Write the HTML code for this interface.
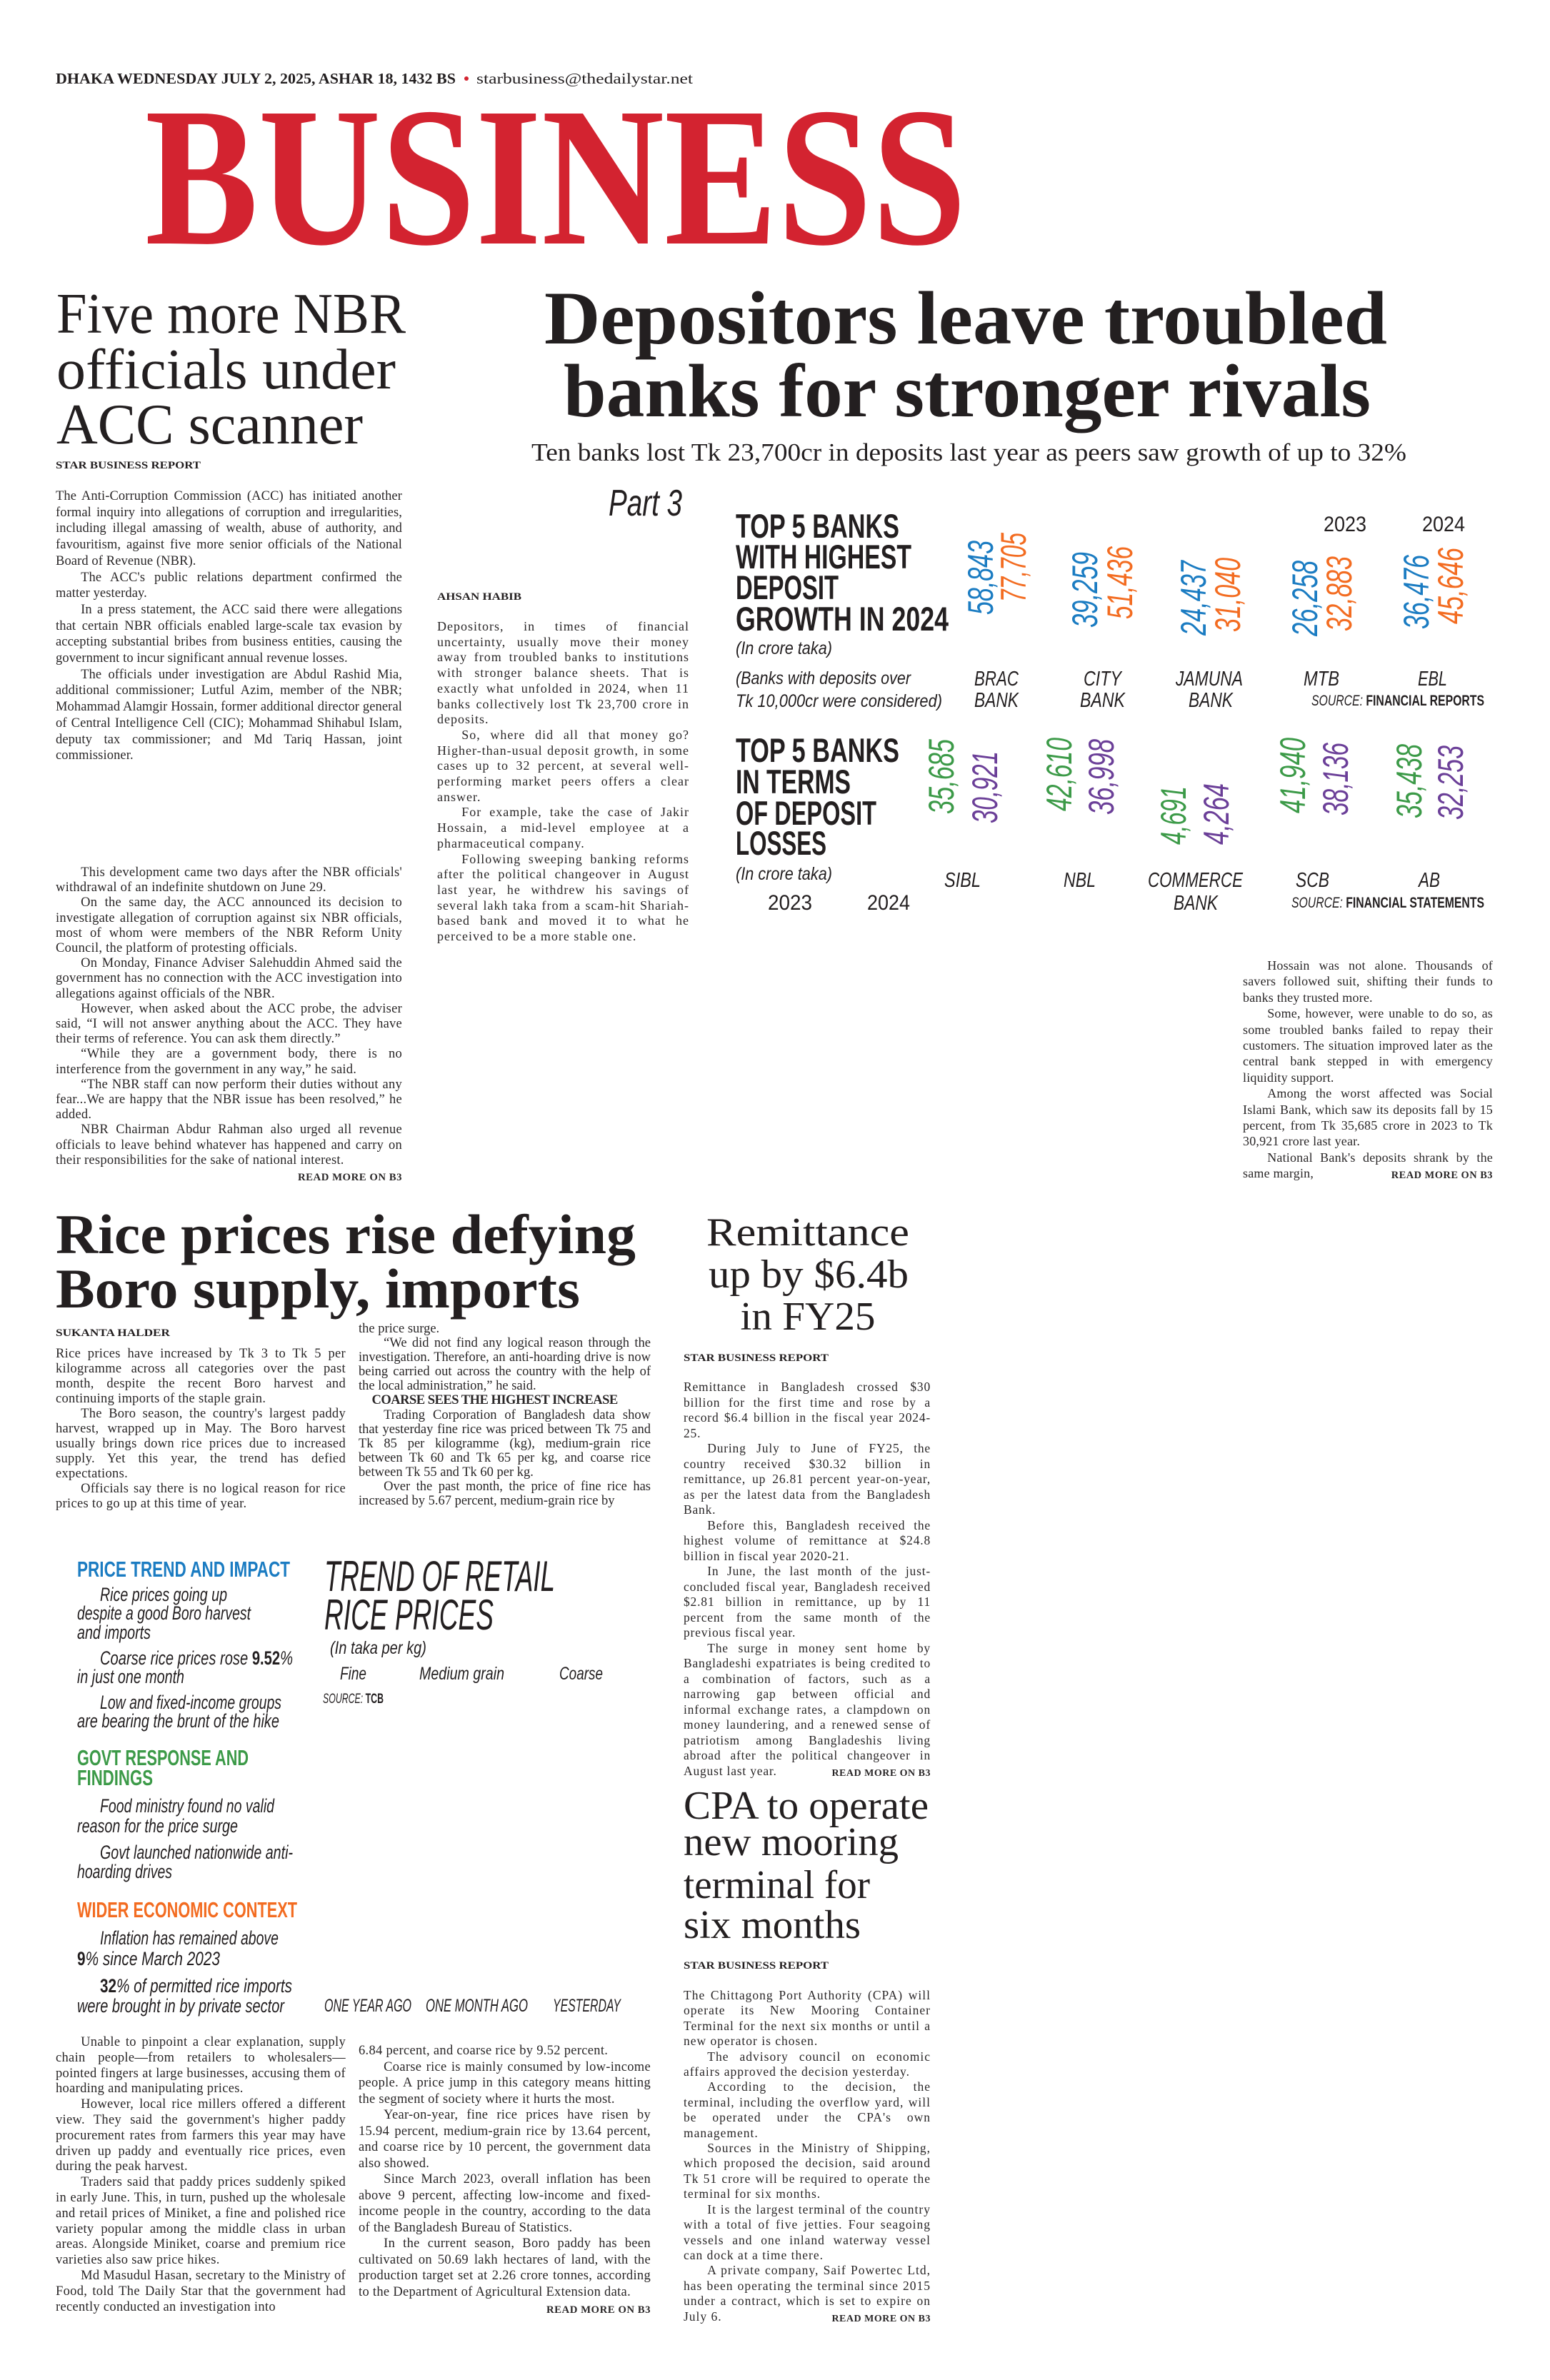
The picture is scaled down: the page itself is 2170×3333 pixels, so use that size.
<!DOCTYPE html>
<html><head><meta charset="utf-8">
<style>
html,body{margin:0;padding:0;background:#fff;}
body{width:2170px;height:3333px;position:relative;overflow:hidden;font-family:"Liberation Serif",serif;color:#231f20;}
.b{position:absolute;font-family:"Liberation Serif",serif;text-align:justify;color:#2a2728;}
.b p{margin:0;text-indent:1.9em;}
.b p.f{text-indent:0;}
.b .rm{float:right;font-weight:bold;font-size:0.8em;letter-spacing:0.5px;margin-top:3px;}
.b .sh{font-weight:bold;text-indent:1em;letter-spacing:-0.5px;}
svg{position:absolute;left:0;top:0;}
</style></head><body>

<div class="b" style="left:78px;top:684px;width:485px;font-size:18.5px;line-height:22.7px;letter-spacing:0.1px;">
<p class="f">The Anti-Corruption Commission (ACC) has initiated another formal inquiry into allegations of corruption and irregularities, including illegal amassing of wealth, abuse of authority, and favouritism, against five more senior officials of the National Board of Revenue (NBR).</p>
<p>The ACC's public relations department confirmed the matter yesterday.</p>
<p>In a press statement, the ACC said there were allegations that certain NBR officials enabled large-scale tax evasion by accepting substantial bribes from business entities, causing the government to incur significant annual revenue losses.</p>
<p>The officials under investigation are Abdul Rashid Mia, additional commissioner; Lutful Azim, member of the NBR; Mohammad Alamgir Hossain, former additional director general of Central Intelligence Cell (CIC); Mohammad Shihabul Islam, deputy tax commissioner; and Md Tariq Hassan, joint commissioner.</p>
</div>
<div class="b" style="left:78px;top:1212px;width:485px;font-size:18.5px;line-height:21.2px;letter-spacing:0.25px;">
<p>This development came two days after the NBR officials' withdrawal of an indefinite shutdown on June 29.</p>
<p>On the same day, the ACC announced its decision to investigate allegation of corruption against six NBR officials, most of whom were members of the NBR Reform Unity Council, the platform of protesting officials.</p>
<p>On Monday, Finance Adviser Salehuddin Ahmed said the government has no connection with the ACC investigation into allegations against officials of the NBR.</p>
<p>However, when asked about the ACC probe, the adviser said, “I will not answer anything about the ACC. They have their terms of reference. You can ask them directly.”</p>
<p>“While they are a government body, there is no interference from the government in any way,” he said.</p>
<p>“The NBR staff can now perform their duties without any fear...We are happy that the NBR issue has been resolved,” he added.</p>
<p>NBR Chairman Abdur Rahman also urged all revenue officials to leave behind whatever has happened and carry on their responsibilities for the sake of national interest. <span class="rm">READ MORE ON B3</span></p>
</div>

<div class="b" style="left:612px;top:867px;width:353px;font-size:18px;line-height:21.7px;letter-spacing:1px;">
<p class="f">Depositors, in times of financial uncertainty, usually move their money away from troubled banks to institutions with stronger balance sheets. That is exactly what unfolded in 2024, when 11 banks collectively lost Tk 23,700 crore in deposits.</p>
<p>So, where did all that money go? Higher-than-usual deposit growth, in some cases up to 32 percent, at several well-performing market peers offers a clear answer.</p>
<p>For example, take the case of Jakir Hossain, a mid-level employee at a pharmaceutical company.</p>
<p>Following sweeping banking reforms after the political changeover in August last year, he withdrew his savings of several lakh taka from a scam-hit Shariah-based bank and moved it to what he perceived to be a more stable one.</p>
</div>

<div class="b" style="left:1740px;top:1341px;width:350px;font-size:18px;line-height:22.4px;letter-spacing:0.2px;">
<p>Hossain was not alone. Thousands of savers followed suit, shifting their funds to banks they trusted more.</p>
<p>Some, however, were unable to do so, as some troubled banks failed to repay their customers. The situation improved later as the central bank stepped in with emergency liquidity support.</p>
<p>Among the worst affected was Social Islami Bank, which saw its deposits fall by 15 percent, from Tk 35,685 crore in 2023 to Tk 30,921 crore last year.</p>
<p>National Bank's deposits shrank by the same margin, <span class="rm">READ MORE ON B3</span></p>
</div>

<div class="b" style="left:78px;top:1886px;width:406px;font-size:18.5px;line-height:21px;letter-spacing:0.3px;">
<p class="f">Rice prices have increased by Tk 3 to Tk 5 per kilogramme across all categories over the past month, despite the recent Boro harvest and continuing imports of the staple grain.</p>
<p>The Boro season, the country's largest paddy harvest, wrapped up in May. The Boro harvest usually brings down rice prices due to increased supply. Yet this year, the trend has defied expectations.</p>
<p>Officials say there is no logical reason for rice prices to go up at this time of year.</p>
</div>
<div class="b" style="left:502px;top:1851px;width:409px;font-size:18.5px;line-height:20.1px;">
<p class="f">the price surge.</p>
<p>“We did not find any logical reason through the investigation. Therefore, an anti-hoarding drive is now being carried out across the country with the help of the local administration,” he said.</p>
<p class="sh">COARSE SEES THE HIGHEST INCREASE</p>
<p>Trading Corporation of Bangladesh data show that yesterday fine rice was priced between Tk 75 and Tk 85 per kilogramme (kg), medium-grain rice between Tk 60 and Tk 65 per kg, and coarse rice between Tk 55 and Tk 60 per kg.</p>
<p>Over the past month, the price of fine rice has increased by 5.67 percent, medium-grain rice by</p>
</div>

<div class="b" style="left:78px;top:2850px;width:406px;font-size:18.5px;line-height:21.8px;letter-spacing:0.3px;">
<p>Unable to pinpoint a clear explanation, supply chain people—from retailers to wholesalers—pointed fingers at large businesses, accusing them of hoarding and manipulating prices.</p>
<p>However, local rice millers offered a different view. They said the government's higher paddy procurement rates from farmers this year may have driven up paddy and eventually rice prices, even during the peak harvest.</p>
<p>Traders said that paddy prices suddenly spiked in early June. This, in turn, pushed up the wholesale and retail prices of Miniket, a fine and polished rice variety popular among the middle class in urban areas. Alongside Miniket, coarse and premium rice varieties also saw price hikes.</p>
<p>Md Masudul Hasan, secretary to the Ministry of Food, told The Daily Star that the government had recently conducted an investigation into</p>
</div>
<div class="b" style="left:502px;top:2861px;width:409px;font-size:18.5px;line-height:22.5px;letter-spacing:0.3px;">
<p class="f">6.84 percent, and coarse rice by 9.52 percent.</p>
<p>Coarse rice is mainly consumed by low-income people. A price jump in this category means hitting the segment of society where it hurts the most.</p>
<p>Year-on-year, fine rice prices have risen by 15.94 percent, medium-grain rice by 13.64 percent, and coarse rice by 10 percent, the government data also showed.</p>
<p>Since March 2023, overall inflation has been above 9 percent, affecting low-income and fixed-income people in the country, according to the data of the Bangladesh Bureau of Statistics.</p>
<p>In the current season, Boro paddy has been cultivated on 50.69 lakh hectares of land, with the production target set at 2.26 crore tonnes, according to the Department of Agricultural Extension data. <span class="rm">READ MORE ON B3</span></p>
</div>

<div class="b" style="left:957px;top:1932px;width:346px;font-size:17.5px;line-height:21.5px;letter-spacing:0.8px;">
<p class="f">Remittance in Bangladesh crossed $30 billion for the first time and rose by a record $6.4 billion in the fiscal year 2024-25.</p>
<p>During July to June of FY25, the country received $30.32 billion in remittance, up 26.81 percent year-on-year, as per the latest data from the Bangladesh Bank.</p>
<p>Before this, Bangladesh received the highest volume of remittance at $24.8 billion in fiscal year 2020-21.</p>
<p>In June, the last month of the just-concluded fiscal year, Bangladesh received $2.81 billion in remittance, up by 11 percent from the same month of the previous fiscal year.</p>
<p>The surge in money sent home by Bangladeshi expatriates is being credited to a combination of factors, such as a narrowing gap between official and informal exchange rates, a clampdown on money laundering, and a renewed sense of patriotism among Bangladeshis living abroad after the political changeover in August last year. <span class="rm">READ MORE ON B3</span></p>
</div>

<div class="b" style="left:957px;top:2784px;width:346px;font-size:17.5px;line-height:21.4px;letter-spacing:1px;">
<p class="f">The Chittagong Port Authority (CPA) will operate its New Mooring Container Terminal for the next six months or until a new operator is chosen.</p>
<p>The advisory council on economic affairs approved the decision yesterday.</p>
<p>According to the decision, the terminal, including the overflow yard, will be operated under the CPA's own management.</p>
<p>Sources in the Ministry of Shipping, which proposed the decision, said around Tk 51 crore will be required to operate the terminal for six months.</p>
<p>It is the largest terminal of the country with a total of five jetties. Four seagoing vessels and one inland waterway vessel can dock at a time there.</p>
<p>A private company, Saif Powertec Ltd, has been operating the terminal since 2015 under a contract, which is set to expire on July 6. <span class="rm">READ MORE ON B3</span></p>
</div>

<svg width="2170" height="3333" viewBox="0 0 2170 3333" xmlns="http://www.w3.org/2000/svg">
<g font-family="Liberation Serif, serif" fill="#231f20">
<text x="78" y="117" font-size="21" font-weight="bold" textLength="560" lengthAdjust="spacingAndGlyphs">DHAKA WEDNESDAY JULY 2, 2025, ASHAR 18, 1432 BS</text>
<circle cx="653" cy="110" r="3" fill="#d32330"/>
<text x="667" y="117" font-size="21" textLength="303" lengthAdjust="spacingAndGlyphs">starbusiness@thedailystar.net</text>
<text x="203" y="341" font-size="278" font-weight="bold" fill="#d32330" textLength="1150" lengthAdjust="spacingAndGlyphs">BUSINESS</text>
<text x="79" y="466" font-size="80" textLength="489" lengthAdjust="spacingAndGlyphs">Five more NBR</text>
<text x="79" y="544" font-size="80" textLength="475" lengthAdjust="spacingAndGlyphs">officials under</text>
<text x="79" y="621" font-size="80" textLength="429" lengthAdjust="spacingAndGlyphs">ACC scanner</text>
<text x="78" y="656" font-size="15" font-weight="bold" textLength="203" lengthAdjust="spacingAndGlyphs">STAR BUSINESS REPORT</text>
<text x="762" y="481" font-size="106" font-weight="bold" textLength="1180" lengthAdjust="spacingAndGlyphs">Depositors leave troubled</text>
<text x="789" y="583" font-size="106" font-weight="bold" textLength="1130" lengthAdjust="spacingAndGlyphs">banks for stronger rivals</text>
<text x="744" y="645" font-size="35" textLength="1225" lengthAdjust="spacingAndGlyphs">Ten banks lost Tk 23,700cr in deposits last year as peers saw growth of up to 32%</text>
<text x="612" y="840" font-size="15" font-weight="bold" textLength="118" lengthAdjust="spacingAndGlyphs">AHSAN HABIB</text>
<text x="78" y="1755" font-size="78" font-weight="bold" textLength="812" lengthAdjust="spacingAndGlyphs">Rice prices rise defying</text>
<text x="78" y="1831" font-size="78" font-weight="bold" textLength="734" lengthAdjust="spacingAndGlyphs">Boro supply, imports</text>
<text x="78" y="1871" font-size="15" font-weight="bold" textLength="160" lengthAdjust="spacingAndGlyphs">SUKANTA HALDER</text>
<text x="1131" y="1744" font-size="56" text-anchor="middle" textLength="284" lengthAdjust="spacingAndGlyphs">Remittance</text>
<text x="1132" y="1803" font-size="56" text-anchor="middle" textLength="280" lengthAdjust="spacingAndGlyphs">up by $6.4b</text>
<text x="1131" y="1862" font-size="56" text-anchor="middle" textLength="189" lengthAdjust="spacingAndGlyphs">in FY25</text>
<text x="957" y="1906" font-size="15" font-weight="bold" textLength="203" lengthAdjust="spacingAndGlyphs">STAR BUSINESS REPORT</text>
<text x="957" y="2547" font-size="56" textLength="343" lengthAdjust="spacingAndGlyphs">CPA to operate</text>
<text x="957" y="2598" font-size="56" textLength="301" lengthAdjust="spacingAndGlyphs">new mooring</text>
<text x="957" y="2658" font-size="56" textLength="261" lengthAdjust="spacingAndGlyphs">terminal for</text>
<text x="957" y="2714" font-size="56" textLength="248" lengthAdjust="spacingAndGlyphs">six months</text>
<text x="957" y="2757" font-size="15" font-weight="bold" textLength="203" lengthAdjust="spacingAndGlyphs">STAR BUSINESS REPORT</text>
</g>

<g font-family="Liberation Sans Narrow, Liberation Sans, sans-serif" fill="#231f20">
<text x="852" y="722" font-size="52" font-style="italic" textLength="103" lengthAdjust="spacingAndGlyphs">Part 3</text>
<g font-weight="bold" font-size="47">
<text x="1030" y="753" textLength="229" lengthAdjust="spacingAndGlyphs">TOP 5 BANKS</text>
<text x="1030" y="796" textLength="246" lengthAdjust="spacingAndGlyphs">WITH HIGHEST</text>
<text x="1030" y="839" textLength="144" lengthAdjust="spacingAndGlyphs">DEPOSIT</text>
<text x="1030" y="883" textLength="298" lengthAdjust="spacingAndGlyphs">GROWTH IN 2024</text>
<text x="1030" y="1067" textLength="229" lengthAdjust="spacingAndGlyphs">TOP 5 BANKS</text>
<text x="1030" y="1111" textLength="161" lengthAdjust="spacingAndGlyphs">IN TERMS</text>
<text x="1030" y="1155" textLength="197" lengthAdjust="spacingAndGlyphs">OF DEPOSIT</text>
<text x="1030" y="1197" textLength="127" lengthAdjust="spacingAndGlyphs">LOSSES</text>
</g>
<g font-style="italic" font-size="25">
<text x="1030" y="916" textLength="135" lengthAdjust="spacingAndGlyphs">(In crore taka)</text>
<text x="1030" y="958" textLength="245" lengthAdjust="spacingAndGlyphs">(Banks with deposits over</text>
<text x="1030" y="990" textLength="289" lengthAdjust="spacingAndGlyphs">Tk 10,000cr were considered)</text>
<text x="1030" y="1232" textLength="135" lengthAdjust="spacingAndGlyphs">(In crore taka)</text>
</g>
<g font-size="30">
<text x="1853" y="744" textLength="60" lengthAdjust="spacingAndGlyphs">2023</text>
<text x="1991" y="744" textLength="60" lengthAdjust="spacingAndGlyphs">2024</text>
<text x="1075" y="1274" textLength="62" lengthAdjust="spacingAndGlyphs">2023</text>
<text x="1214" y="1274" textLength="60" lengthAdjust="spacingAndGlyphs">2024</text>
</g>
<g font-size="29" font-style="italic">
<text x="1364" y="960" textLength="62" lengthAdjust="spacingAndGlyphs">BRAC</text>
<text x="1364" y="990" textLength="62" lengthAdjust="spacingAndGlyphs">BANK</text>
<text x="1517" y="960" textLength="53" lengthAdjust="spacingAndGlyphs">CITY</text>
<text x="1512" y="990" textLength="63" lengthAdjust="spacingAndGlyphs">BANK</text>
<text x="1646" y="960" textLength="94" lengthAdjust="spacingAndGlyphs">JAMUNA</text>
<text x="1664" y="990" textLength="62" lengthAdjust="spacingAndGlyphs">BANK</text>
<text x="1825" y="960" textLength="50" lengthAdjust="spacingAndGlyphs">MTB</text>
<text x="1985" y="960" textLength="41" lengthAdjust="spacingAndGlyphs">EBL</text>
<text x="1322" y="1242" textLength="51" lengthAdjust="spacingAndGlyphs">SIBL</text>
<text x="1489" y="1242" textLength="45" lengthAdjust="spacingAndGlyphs">NBL</text>
<text x="1607" y="1242" textLength="133" lengthAdjust="spacingAndGlyphs">COMMERCE</text>
<text x="1643" y="1274" textLength="62" lengthAdjust="spacingAndGlyphs">BANK</text>
<text x="1814" y="1242" textLength="47" lengthAdjust="spacingAndGlyphs">SCB</text>
<text x="1986" y="1242" textLength="30" lengthAdjust="spacingAndGlyphs">AB</text>
</g>
<text x="1836" y="988" font-size="21" textLength="242" lengthAdjust="spacingAndGlyphs"><tspan font-style="italic">SOURCE: </tspan><tspan font-weight="bold">FINANCIAL REPORTS</tspan></text>
<text x="1808" y="1271" font-size="21" textLength="270" lengthAdjust="spacingAndGlyphs"><tspan font-style="italic">SOURCE: </tspan><tspan font-weight="bold">FINANCIAL STATEMENTS</tspan></text>
</g>
<g font-family="Liberation Sans, sans-serif" font-size="50" font-style="italic">
<g fill="#1b7cc2">
<text transform="translate(1390,861) rotate(-90)" textLength="104" lengthAdjust="spacingAndGlyphs">58,843</text>
<text transform="translate(1536,879) rotate(-90)" textLength="106" lengthAdjust="spacingAndGlyphs">39,259</text>
<text transform="translate(1688,890) rotate(-90)" textLength="105" lengthAdjust="spacingAndGlyphs">24,437</text>
<text transform="translate(1844,891) rotate(-90)" textLength="106" lengthAdjust="spacingAndGlyphs">26,258</text>
<text transform="translate(2000,881) rotate(-90)" textLength="104" lengthAdjust="spacingAndGlyphs">36,476</text>
</g>
<g fill="#f36c21">
<text transform="translate(1436,843) rotate(-90)" textLength="97" lengthAdjust="spacingAndGlyphs">77,705</text>
<text transform="translate(1585,867) rotate(-90)" textLength="102" lengthAdjust="spacingAndGlyphs">51,436</text>
<text transform="translate(1736,885) rotate(-90)" textLength="104" lengthAdjust="spacingAndGlyphs">31,040</text>
<text transform="translate(1892,884) rotate(-90)" textLength="105" lengthAdjust="spacingAndGlyphs">32,883</text>
<text transform="translate(2048,874) rotate(-90)" textLength="107" lengthAdjust="spacingAndGlyphs">45,646</text>
</g>
<g fill="#3c9a48">
<text transform="translate(1335,1140) rotate(-90)" textLength="105" lengthAdjust="spacingAndGlyphs">35,685</text>
<text transform="translate(1500,1136) rotate(-90)" textLength="103" lengthAdjust="spacingAndGlyphs">42,610</text>
<text transform="translate(1660,1183) rotate(-90)" textLength="82" lengthAdjust="spacingAndGlyphs">4,691</text>
<text transform="translate(1827,1139) rotate(-90)" textLength="106" lengthAdjust="spacingAndGlyphs">41,940</text>
<text transform="translate(1990,1146) rotate(-90)" textLength="104" lengthAdjust="spacingAndGlyphs">35,438</text>
</g>
<g fill="#6b3f98">
<text transform="translate(1396,1153) rotate(-90)" textLength="101" lengthAdjust="spacingAndGlyphs">30,921</text>
<text transform="translate(1559,1141) rotate(-90)" textLength="106" lengthAdjust="spacingAndGlyphs">36,998</text>
<text transform="translate(1720,1183) rotate(-90)" textLength="86" lengthAdjust="spacingAndGlyphs">4,264</text>
<text transform="translate(1887,1142) rotate(-90)" textLength="102" lengthAdjust="spacingAndGlyphs">38,136</text>
<text transform="translate(2048,1148) rotate(-90)" textLength="104" lengthAdjust="spacingAndGlyphs">32,253</text>
</g>
</g>

<g font-family="Liberation Sans Narrow, Liberation Sans, sans-serif">
<g font-weight="bold" font-size="31">
<text x="108" y="2208" fill="#1b7cc2" textLength="298" lengthAdjust="spacingAndGlyphs">PRICE TREND AND IMPACT</text>
<text x="108" y="2472" fill="#3c9a48" textLength="240" lengthAdjust="spacingAndGlyphs">GOVT RESPONSE AND</text>
<text x="108" y="2500" fill="#3c9a48" textLength="106" lengthAdjust="spacingAndGlyphs">FINDINGS</text>
<text x="108" y="2685" fill="#f36c21" textLength="308" lengthAdjust="spacingAndGlyphs">WIDER ECONOMIC CONTEXT</text>
</g>
<g font-style="italic" font-size="27" fill="#231f20">
<text x="140" y="2242" textLength="178" lengthAdjust="spacingAndGlyphs">Rice prices going up</text>
<text x="108" y="2268" textLength="243" lengthAdjust="spacingAndGlyphs">despite a good Boro harvest</text>
<text x="108" y="2295" textLength="103" lengthAdjust="spacingAndGlyphs">and imports</text>
<text x="140" y="2331" textLength="270" lengthAdjust="spacingAndGlyphs">Coarse rice prices rose <tspan font-weight="bold" font-style="normal">9.52</tspan>%</text>
<text x="108" y="2357" textLength="150" lengthAdjust="spacingAndGlyphs">in just one month</text>
<text x="140" y="2393" textLength="254" lengthAdjust="spacingAndGlyphs">Low and fixed-income groups</text>
<text x="108" y="2419" textLength="283" lengthAdjust="spacingAndGlyphs">are bearing the brunt of the hike</text>
<text x="140" y="2538" textLength="244" lengthAdjust="spacingAndGlyphs">Food ministry found no valid</text>
<text x="108" y="2566" textLength="225" lengthAdjust="spacingAndGlyphs">reason for the price surge</text>
<text x="140" y="2603" textLength="270" lengthAdjust="spacingAndGlyphs">Govt launched nationwide anti-</text>
<text x="108" y="2630" textLength="133" lengthAdjust="spacingAndGlyphs">hoarding drives</text>
<text x="140" y="2723" textLength="250" lengthAdjust="spacingAndGlyphs">Inflation has remained above</text>
<text x="108" y="2752" textLength="200" lengthAdjust="spacingAndGlyphs"><tspan font-weight="bold" font-style="normal">9</tspan>% since March 2023</text>
<text x="140" y="2790" textLength="269" lengthAdjust="spacingAndGlyphs"><tspan font-weight="bold" font-style="normal">32</tspan>% of permitted rice imports</text>
<text x="108" y="2818" textLength="290" lengthAdjust="spacingAndGlyphs">were brought in by private sector</text>
</g>
<g font-style="italic" fill="#231f20">
<text x="454" y="2228" font-size="60" textLength="323" lengthAdjust="spacingAndGlyphs">TREND OF RETAIL</text>
<text x="454" y="2282" font-size="60" textLength="237" lengthAdjust="spacingAndGlyphs">RICE PRICES</text>
<text x="462" y="2316" font-size="25" textLength="135" lengthAdjust="spacingAndGlyphs">(In taka per kg)</text>
<text x="476" y="2352" font-size="25" textLength="37" lengthAdjust="spacingAndGlyphs">Fine</text>
<text x="587" y="2352" font-size="25" textLength="119" lengthAdjust="spacingAndGlyphs">Medium grain</text>
<text x="783" y="2352" font-size="25" textLength="61" lengthAdjust="spacingAndGlyphs">Coarse</text>
<text x="454" y="2817" font-size="25" textLength="122" lengthAdjust="spacingAndGlyphs">ONE YEAR AGO</text>
<text x="596" y="2817" font-size="25" textLength="143" lengthAdjust="spacingAndGlyphs">ONE MONTH AGO</text>
<text x="774" y="2817" font-size="25" textLength="95" lengthAdjust="spacingAndGlyphs">YESTERDAY</text>
</g>
<text x="452" y="2385" font-size="19" fill="#231f20" textLength="85" lengthAdjust="spacingAndGlyphs"><tspan font-style="italic">SOURCE: </tspan><tspan font-weight="bold">TCB</tspan></text>
</g>
</svg>
</body></html>
